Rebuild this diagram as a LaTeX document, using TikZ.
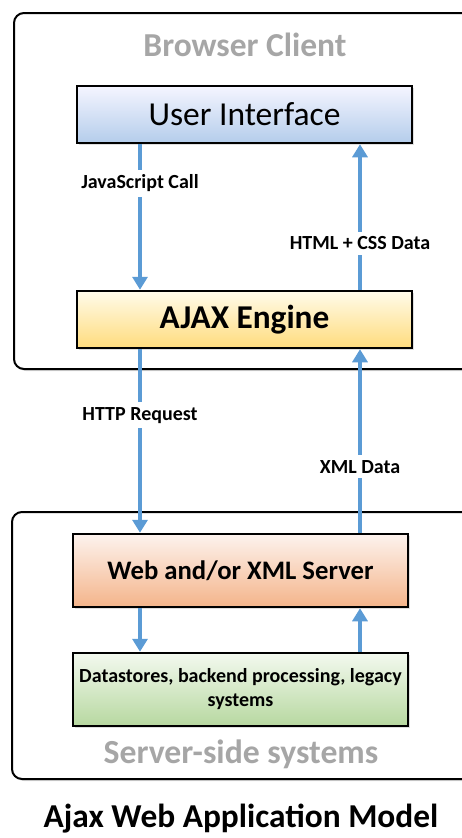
\documentclass[tikz,border=0pt]{standalone}
\usepackage{fontspec}
\setmainfont{Carlito}
\usetikzlibrary{arrows.meta,shadows}
\definecolor{flowblue}{HTML}{5B9BD5}
\definecolor{paneltext}{HTML}{A6A6A6}
\begin{document}
\begin{tikzpicture}[x=1pt,y=-1pt,
    panel/.style={draw=black, line width=2pt, rounded corners=10pt, fill=white,
        drop shadow={opacity=0.25, shadow xshift=2pt, shadow yshift=-2pt}},
    layer/.style={draw=black, line width=2.5pt, minimum width=335pt, inner sep=0pt,
        align=center, drop shadow={opacity=0.25, shadow xshift=2pt, shadow yshift=-2pt}},
    flow/.style={draw=flowblue, line width=4pt, -{Triangle[width=15pt,length=13pt]}},
    tag/.style={fill=white, inner sep=5pt, font=\bfseries\fontsize{20}{24}\selectfont}]
    \useasboundingbox (0,0) rectangle (462,838);
    % outer panels
    \draw[panel] (14,13) rectangle (480,369);
    \draw[panel] (12,512) rectangle (480,779);
    \node[text=paneltext, font=\bfseries\fontsize{33.5}{38}\selectfont] (client) at (245,45) {Browser Client};
    \node[text=paneltext, font=\bfseries\fontsize{33.7}{38}\selectfont] (server) at (241,754) {Server-side systems};
    % layers
    \node[layer, minimum height=57pt, top color=blue!4, bottom color={rgb,255:red,180;green,205;blue,235},
        font=\fontsize{33.5}{38}\selectfont] (ui) at (244.5,114.5) {User Interface};
    \node[layer, minimum height=57pt, top color={rgb,255:red,255;green,251;blue,234}, bottom color={rgb,255:red,255;green,220;blue,125},
        font=\bfseries\fontsize{33.3}{38}\selectfont] (ajax) at (244.5,319.5) {AJAX Engine};
    \node[layer, minimum height=73pt, top color={rgb,255:red,253;green,243;blue,238}, bottom color={rgb,255:red,244;green,180;blue,138},
        font=\bfseries\fontsize{26.7}{32}\selectfont] (web) at (240.5,570.5) {Web and/or XML Server};
    \node[layer, minimum height=73pt, top color={rgb,255:red,243;green,249;blue,239}, bottom color={rgb,255:red,183;green,216;blue,160},
        font=\bfseries\fontsize{20}{24}\selectfont] (store) at (240.5,689.5) {Datastores, backend processing, legacy\\systems};
    % arrow columns
    \coordinate (down) at (140,0);
    \coordinate (up) at (360,0);
    \draw[flow] (ui.south -| down) -- node[tag, pos=0.27] (jscall) {JavaScript Call} (ajax.north -| down);
    \draw[flow] (ajax.north -| up) -- node[tag, pos=0.32] (htmldata) {HTML + CSS Data} (ui.south -| up);
    \draw[flow] (ajax.south -| down) -- node[tag, pos=0.36] (httpreq) {HTTP Request} (web.north -| down);
    \draw[flow] (web.north -| up) -- node[tag, pos=0.36] (xmldata) {XML Data} (ajax.south -| up);
    \draw[flow] (web.south -| down) -- (store.north -| down);
    \draw[flow] (store.north -| up) -- (web.south -| up);
    % caption
    \node[font=\bfseries\fontsize{33.4}{38}\selectfont] (title) at (241,819) {Ajax Web Application Model};
\end{tikzpicture}
\end{document}
